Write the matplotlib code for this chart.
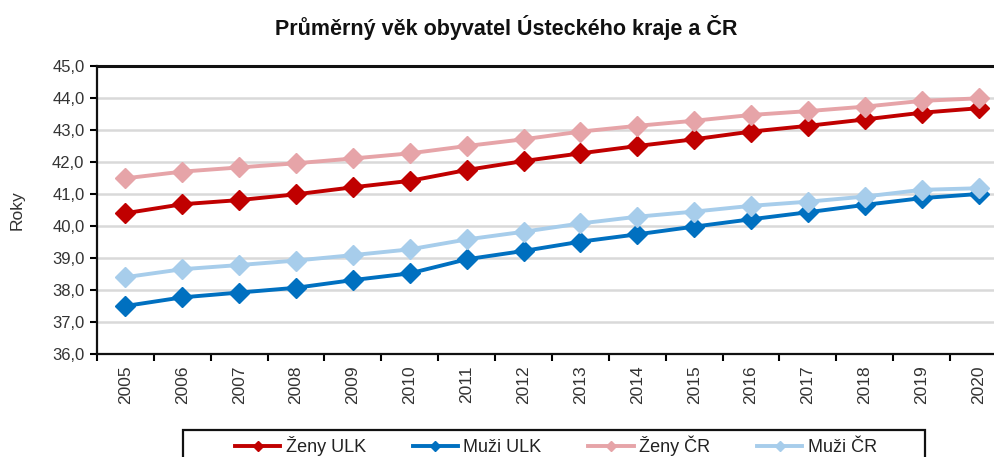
import matplotlib
matplotlib.use("Agg")
import matplotlib.pyplot as plt
from matplotlib.patches import Rectangle
import numpy as np

years = [str(y) for y in range(2005, 2021)]
zeny_ulk = [40.40, 40.68, 40.81, 40.99, 41.21, 41.41, 41.75, 42.03, 42.27, 42.50,
            42.71, 42.95, 43.13, 43.33, 43.54, 43.68]
muzi_ulk = [37.50, 37.77, 37.92, 38.07, 38.31, 38.52, 38.96, 39.22, 39.51, 39.74,
            39.98, 40.21, 40.43, 40.66, 40.87, 41.00]
zeny_cr = [41.49, 41.70, 41.83, 41.96, 42.11, 42.27, 42.50, 42.71, 42.95, 43.13,
           43.29, 43.47, 43.59, 43.73, 43.91, 43.99]
muzi_cr = [38.40, 38.65, 38.78, 38.92, 39.09, 39.27, 39.58, 39.82, 40.08, 40.29,
           40.45, 40.63, 40.76, 40.92, 41.13, 41.18]
series_names = ["Ženy ULK", "Muži ULK", "Ženy ČR", "Muži ČR"]
colors = ["#C00000", "#0070C0", "#E6A4A8", "#A7CDEB"]
y_ticks = [36.0, 37.0, 38.0, 39.0, 40.0, 41.0, 42.0, 43.0, 44.0, 45.0]

plt.rcParams["font.family"] = ["Liberation Sans", "DejaVu Sans"]

W, H = 995, 457
fig = plt.figure(figsize=(W / 100, H / 100), dpi=100)
ax = fig.add_axes([97 / W, 1 - 354 / H, 910 / W, (354 - 66) / H])

x = np.arange(len(years))
handles = []
for vals, name, c in zip([zeny_ulk, muzi_ulk, zeny_cr, muzi_cr], series_names, colors):
    h, = ax.plot(x, vals, color=c, lw=2.8, marker="D", ms=10, mec=c, mfc=c, label=name,
                 solid_joinstyle="round", zorder=3)
    handles.append(h)

ax.set_ylim(36, 45)
ax.set_xlim(-0.5, len(years) - 0.5)
ax.set_yticks(y_ticks)
ax.set_yticklabels([f"{v:.1f}".replace(".", ",") for v in y_ticks], fontsize=12, color="#333333")
ax.set_xticks(x)
ax.set_xticklabels(years, rotation=90, fontsize=12.5, color="#333333")
ax.set_xticks(np.arange(-0.5, len(years)), minor=True)
ax.tick_params(axis="x", which="major", length=0, pad=8)
ax.tick_params(axis="x", which="minor", length=5, width=1.5, direction="out")
ax.tick_params(axis="y", length=5, width=1.5, direction="out", pad=4)
ax.grid(axis="y", color="#D9D9D9", lw=1.8, zorder=0)
for s in ["left", "bottom", "top"]:
    ax.spines[s].set_color("#111111")
    ax.spines[s].set_linewidth(1.6)
ax.spines["top"].set_linewidth(2.2)
ax.spines["right"].set_visible(False)

ax.set_ylabel("Roky", fontsize=12.5, color="#333333", labelpad=20)

fig.text(506 / W, 1 - 28 / H, "Průměrný věk obyvatel Ústeckého kraje a ČR",
         ha="center", va="center", fontsize=15.5, fontweight="bold", color="#111111")

# legend frame (cropped at bottom like the reference)
fig.patches.append(Rectangle((183 / W, -0.05), (925 - 183) / W, 1 - 430 / H + 0.05,
                             transform=fig.transFigure, fill=False, edgecolor="#111111",
                             lw=1.6))
leg = fig.legend(handles=handles, loc="center", bbox_to_anchor=(556 / W, 1 - 446 / H),
                 ncol=4, frameon=False, fontsize=13, handlelength=2.5,
                 handletextpad=0.3, columnspacing=2.6, markerscale=0.5, borderaxespad=0)
for t in leg.get_texts():
    t.set_color("#222222")

fig.savefig("out.png", dpi=100)
